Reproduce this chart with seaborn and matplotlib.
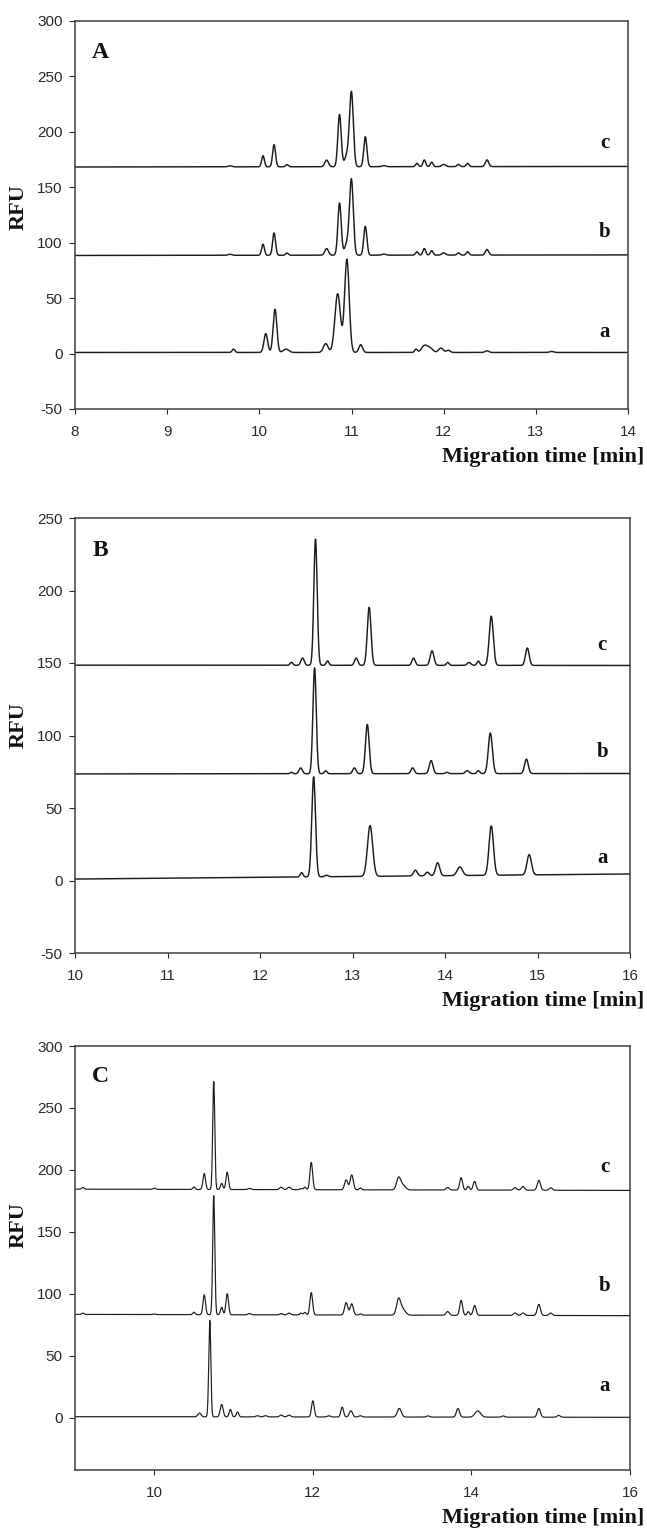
import numpy as np
import pandas as pd
import matplotlib.pyplot as plt
import seaborn as sns

# ---- panel A: peak tables (time [min], height [RFU], width sigma [min]) ----
A_time = [8, 14]
A_a_base = [1.0, 1.0]
A_a_t = [9.72, 10.07, 10.17, 10.29, 10.72, 10.85, 10.95, 11.10, 11.70, 11.79, 11.85, 11.97, 12.05, 12.47, 13.17]
A_a_h = [3, 17, 39, 3, 8, 53, 84, 7, 3, 6, 4, 4, 2, 1.5, 1]
A_a_w = [0.015, 0.02, 0.02, 0.03, 0.025, 0.03, 0.025, 0.02, 0.015, 0.03, 0.03, 0.025, 0.02, 0.02, 0.02]

A_b_base = [88.5, 89.0]
A_b_t = [9.68, 10.04, 10.16, 10.30, 10.73, 10.87, 10.96, 11.00, 11.15, 11.35, 11.71, 11.79, 11.87, 12.00, 12.16, 12.26, 12.47]
A_b_h = [1, 10, 20, 2, 6, 47, 12, 64, 26, 1, 3, 6, 4, 2, 2, 3, 5]
A_b_w = [0.02, 0.015, 0.016, 0.015, 0.02, 0.018, 0.03, 0.02, 0.017, 0.02, 0.015, 0.015, 0.015, 0.02, 0.015, 0.015, 0.018]

A_c_base = [168.3, 168.8]
A_c_t = [9.68, 10.04, 10.16, 10.30, 10.73, 10.87, 10.96, 11.00, 11.15, 11.35, 11.71, 11.79, 11.87, 12.00, 12.16, 12.26, 12.47]
A_c_h = [1, 10, 20, 2, 6, 47, 12, 63, 27, 1, 3, 6, 4, 2, 2, 3, 6]
A_c_w = [0.02, 0.015, 0.016, 0.015, 0.02, 0.018, 0.03, 0.02, 0.017, 0.02, 0.015, 0.015, 0.015, 0.02, 0.015, 0.015, 0.018]

# ---- panel B ----
B_time = [10, 16]
B_a_base = [1.0, 4.5]
B_a_t = [12.45, 12.58, 12.72, 13.19, 13.68, 13.81, 13.92, 14.16, 14.50, 14.91]
B_a_h = [3, 69, 1, 35, 4, 2.5, 9, 6, 34, 14]
B_a_w = [0.015, 0.02, 0.02, 0.028, 0.02, 0.02, 0.022, 0.028, 0.024, 0.024]

B_b_base = [73.5, 73.8]
B_b_t = [12.34, 12.44, 12.59, 12.71, 13.02, 13.16, 13.65, 13.85, 14.02, 14.24, 14.36, 14.49, 14.88]
B_b_h = [1, 4, 73, 2, 4, 34, 4, 9, 1, 2, 2, 28, 10]
B_b_w = [0.015, 0.018, 0.018, 0.015, 0.018, 0.02, 0.018, 0.02, 0.015, 0.02, 0.015, 0.022, 0.02]

B_c_base = [148.5, 148.3]
B_c_t = [12.34, 12.46, 12.60, 12.73, 13.04, 13.18, 13.66, 13.86, 14.03, 14.26, 14.36, 14.50, 14.89]
B_c_h = [2, 5, 87, 3, 5, 40, 5, 10, 2, 2, 3, 34, 12]
B_c_w = [0.015, 0.018, 0.018, 0.015, 0.018, 0.02, 0.018, 0.02, 0.015, 0.02, 0.015, 0.022, 0.02]

# ---- panel C ----
C_time = [9, 16]
C_a_base = [1.0, 0.5]
C_a_t = [10.57, 10.70, 10.85, 10.96, 11.05, 11.30, 11.40, 11.60, 11.70, 12.00, 12.20, 12.37, 12.48, 12.60,
         13.09, 13.45, 13.83, 14.08, 14.40, 14.85, 15.10]
C_a_h = [3, 78, 10, 6, 4, 1, 1, 1.5, 1.5, 13, 1, 8, 5, 1, 7, 1, 7, 5, 1, 7, 1.5]
C_a_w = [0.02, 0.013, 0.018, 0.015, 0.015, 0.02, 0.02, 0.02, 0.02, 0.017, 0.02, 0.017, 0.02, 0.02,
         0.025, 0.02, 0.02, 0.035, 0.02, 0.02, 0.02]

C_bc_t = [9.10, 10.00, 10.50, 10.63, 10.75, 10.85, 10.92, 11.20, 11.60, 11.70, 11.85, 11.90, 11.98, 12.42,
          12.49, 12.60, 13.08, 13.13, 13.70, 13.87, 13.96, 14.04, 14.55, 14.65, 14.85, 15.00]
C_bc_w = [0.015, 0.015, 0.015, 0.016, 0.013, 0.015, 0.016, 0.02, 0.02, 0.02, 0.015, 0.015, 0.017, 0.02,
          0.02, 0.015, 0.025, 0.035, 0.02, 0.018, 0.015, 0.018, 0.02, 0.02, 0.02, 0.02]
C_b_base = [83.5, 82.5]
C_b_h = [1, 0.5, 2, 16, 96, 6, 17, 1, 1, 1.5, 1.5, 2, 18, 10, 9, 1, 12, 5, 3, 12, 3, 8, 2, 2, 9, 2]
C_c_base = [184.5, 183.5]
C_c_h = [1.5, 1, 2, 13, 87, 5, 14, 1, 2, 2, 1, 2, 22, 8, 12, 1.5, 9, 4, 2, 10, 3, 7, 2, 3, 8, 2]


def trace(xlim, base, t, h, w, name):
    x = np.linspace(xlim[0], xlim[1], 3001)
    y = np.interp(x, xlim, base)
    for ti, hi, wi in zip(t, h, w):
        y = y + hi * np.exp(-0.5 * ((x - ti) / wi) ** 2)
    return pd.DataFrame({'time': x, 'rfu': y, 'trace': name})


df_A = pd.concat([trace(A_time, A_a_base, A_a_t, A_a_h, A_a_w, 'a'),
                  trace(A_time, A_b_base, A_b_t, A_b_h, A_b_w, 'b'),
                  trace(A_time, A_c_base, A_c_t, A_c_h, A_c_w, 'c')])
df_B = pd.concat([trace(B_time, B_a_base, B_a_t, B_a_h, B_a_w, 'a'),
                  trace(B_time, B_b_base, B_b_t, B_b_h, B_b_w, 'b'),
                  trace(B_time, B_c_base, B_c_t, B_c_h, B_c_w, 'c')])
df_C = pd.concat([trace(C_time, C_a_base, C_a_t, C_a_h, C_a_w, 'a'),
                  trace(C_time, C_b_base, C_bc_t, C_b_h, C_bc_w, 'b'),
                  trace(C_time, C_c_base, C_bc_t, C_c_h, C_bc_w, 'c')])

sns.set_style('ticks')
plt.rcParams['font.family'] = ['Liberation Sans', 'DejaVu Sans']
plt.rcParams['axes.unicode_minus'] = False
serif = ['Liberation Serif', 'DejaVu Serif']

W, H = 647, 1529
fig = plt.figure(figsize=(W / 100, H / 100), dpi=100)


def px_axes(l, t, r, b):
    return fig.add_axes([l / W, 1 - b / H, (r - l) / W, (b - t) / H])


panels = [
    # df, box(px), xlim, ylim, xticks, yticks, letter, label y values, label x, letter y(px), RFU y(px), xlabel y(px)
    (df_A, (75, 21, 628, 409), (8, 14), (-50, 300), range(8, 15), range(-50, 301, 50), 'A',
     {'a': 19.5, 'b': 110, 'c': 190}, 13.75, 53, 207, 457),
    (df_B, (75, 518, 630, 953), (10, 16), (-50, 250), range(10, 17), range(-50, 251, 50), 'B',
     {'a': 15.5, 'b': 88.6, 'c': 162.4}, 15.70, 550, 725, 1001),
    (df_C, (75, 1046, 630, 1470), (9, 16), (-42, 300), range(10, 17, 2), range(0, 301, 50), 'C',
     {'a': 25.8, 'b': 106.5, 'c': 202.4}, 15.68, 1076, 1225, 1518),
]

for df, box, xl, yl, xt, yt, letter, labs, lab_x, let_y, rfu_y, xlab_y in panels:
    ax = px_axes(*box)
    lw = 0.85 if letter == 'C' else 1.05
    sns.lineplot(data=df, x='time', y='rfu', units='trace', estimator=None,
                 color='#1c1c1c', lw=lw, ax=ax, legend=False)
    ax.set_xlim(*xl)
    ax.set_ylim(*yl)
    ax.set_xticks(list(xt))
    ax.set_yticks(list(yt))
    ax.set_xlabel('')
    ax.set_ylabel('')
    ax.tick_params(axis='y', direction='out', length=4.5, width=0.8, pad=4.5,
                   labelsize=11, colors='#2a2a2a')
    ax.tick_params(axis='x', direction='out', length=3.5, width=0.8, pad=8,
                   labelsize=11, colors='#2a2a2a')
    for s in ax.spines.values():
        s.set_color('#404040')
        s.set_linewidth(1.1)
    for k, v in labs.items():
        ax.text(lab_x, v, k, ha='center', va='center', fontsize=15,
                fontweight='bold', family=serif, color='#111111')
    fig.text(100 / W, 1 - let_y / H, letter, ha='center', va='center', fontsize=17,
             fontweight='bold', family=serif, color='#111111')
    fig.text(19 / W, 1 - rfu_y / H, 'RFU', rotation=90, ha='center', va='center',
             fontsize=16, fontweight='bold', family=serif, color='#111111')
    fig.text(644 / W, 1 - xlab_y / H, 'Migration time [min]', ha='right', va='center',
             fontsize=16, fontweight='bold', family=serif, color='#111111')

fig.savefig('out.png', dpi=100, facecolor='white')
